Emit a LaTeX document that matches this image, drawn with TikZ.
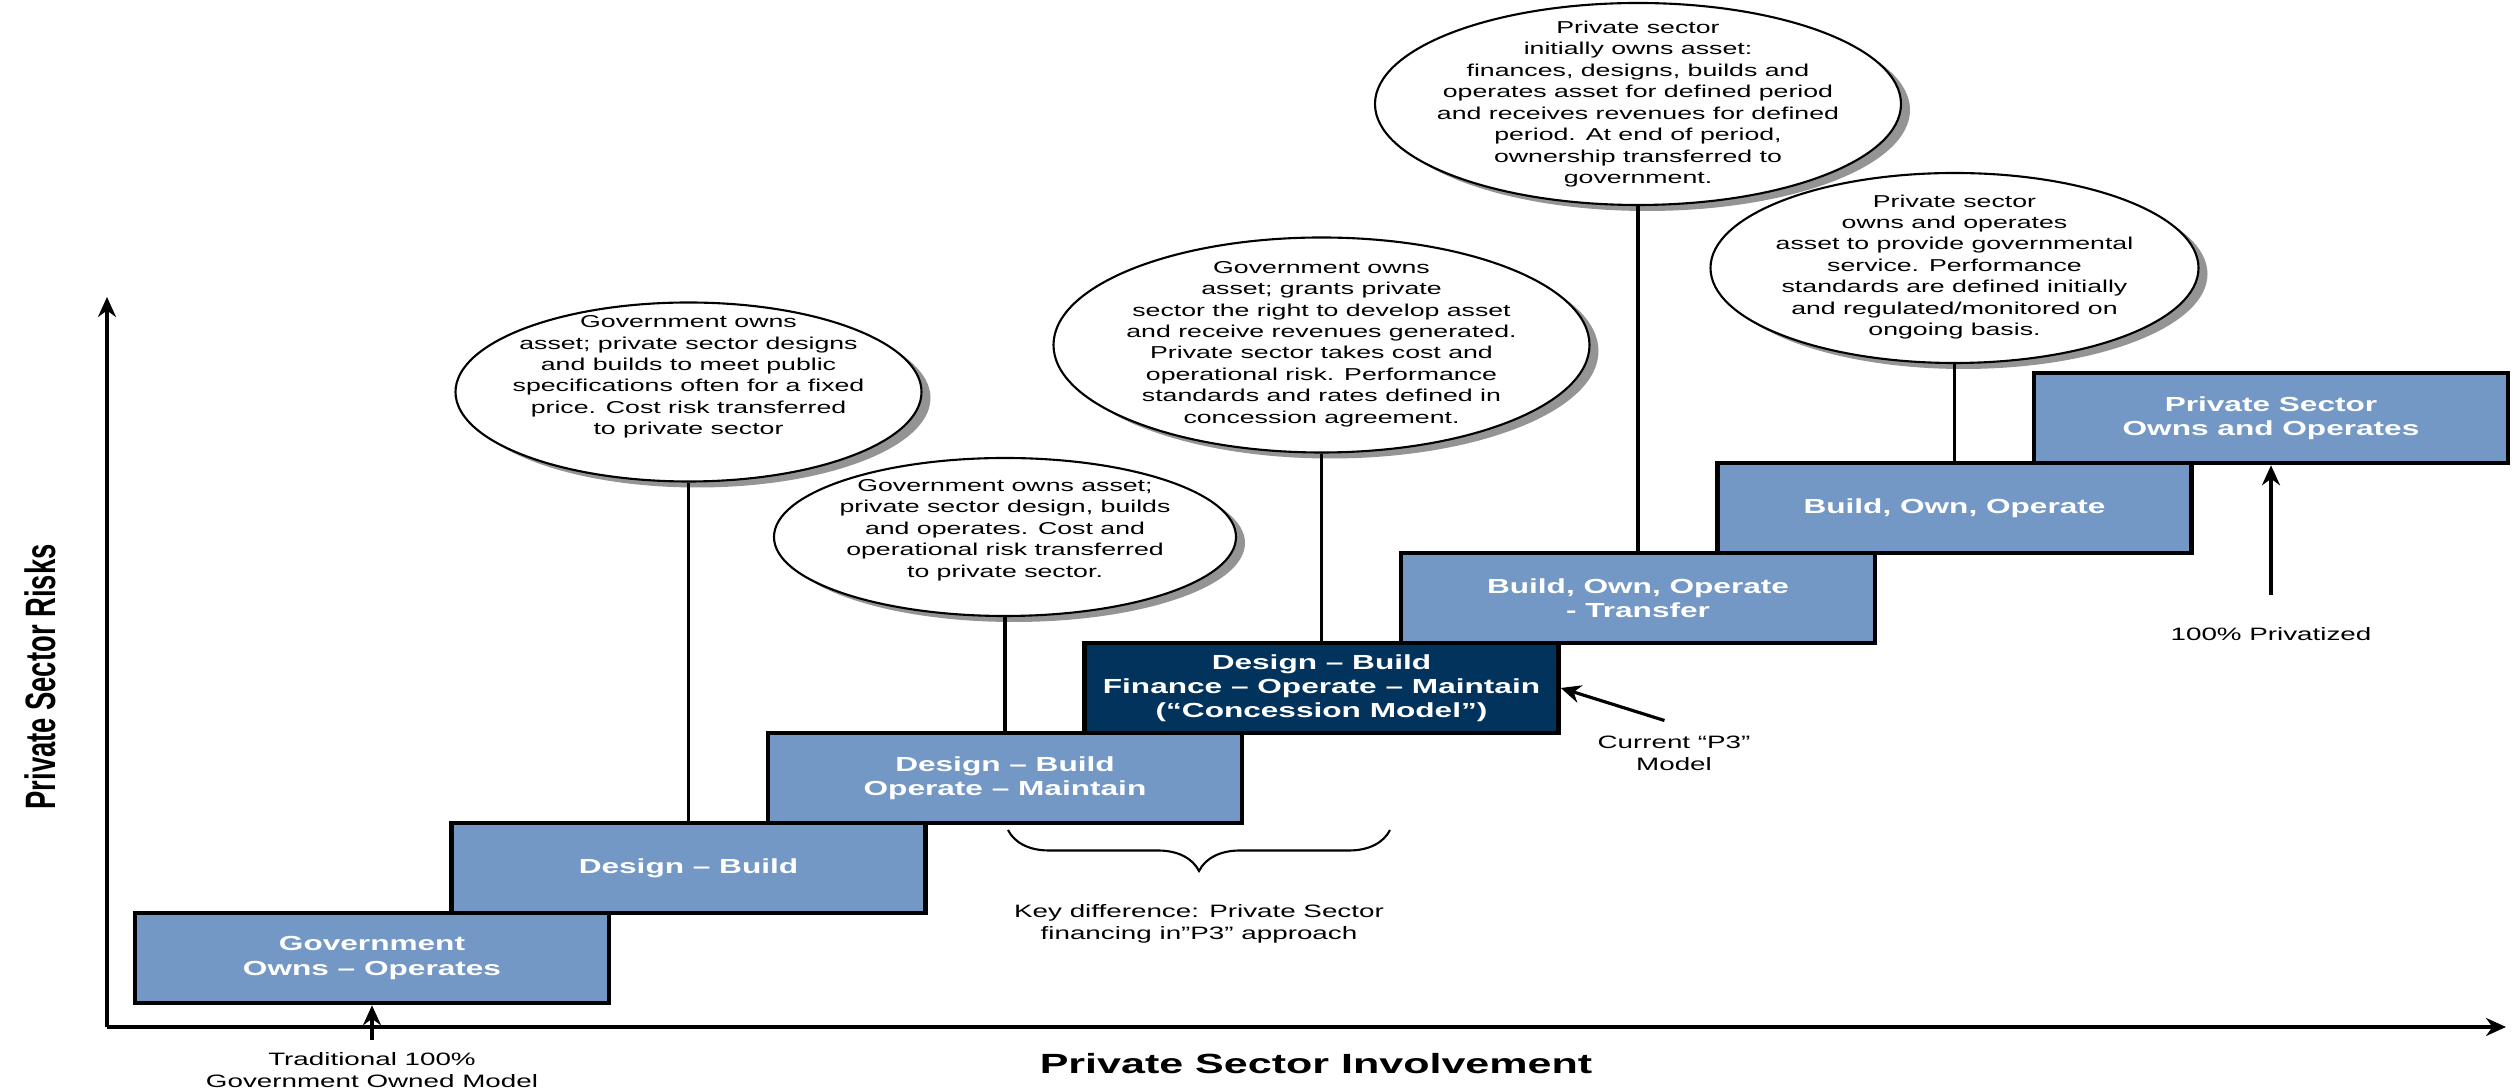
\documentclass[tikz,border=0pt]{standalone}
\usepackage{fontspec}
\setmainfont[FakeStretch=1.55]{Liberation Sans}
\newfontfamily\axisfont{Liberation Sans}
\usepackage{graphicx}
\usepackage{xcolor}
\usetikzlibrary{shapes.geometric}
\usetikzlibrary{shadows}
\usetikzlibrary{arrows.meta}
\usetikzlibrary{decorations.pathreplacing}
\definecolor{stepblue}{RGB}{115,152,197}
\definecolor{navy}{RGB}{2,51,92}

\begin{document}
\begin{tikzpicture}[
	stepbox/.style={draw=black, line width=1.3pt, fill=stepblue, minimum width=4.74cm, minimum height=0.90cm, inner sep=0pt, align=center, text=white, font=\bfseries\fontsize{5.8}{6.9}\selectfont},
	bubble/.style={ellipse, draw=black, line width=0.6pt, fill=white, inner sep=0pt, drop shadow={shadow xshift=0.09cm, shadow yshift=-0.06cm, fill=black!60, opacity=0.7}},
	bubbletext/.style={align=center, font=\fontsize{4.9}{6.1}\selectfont},
	note/.style={align=center, font=\fontsize{5.1}{6.4}\selectfont},
	stem/.style={line width=0.9pt},
	pointer/.style={-{Stealth[length=2mm,width=1.8mm]}, line width=0.9pt}
	]
				\useasboundingbox (0,0) rectangle (25.16,10.91);
				% axes
				\coordinate (O) at (1.07,0.64);
				\coordinate (Y) at (1.07,7.94);
				\coordinate (X) at (25.06,0.64);
				\draw[pointer] (O) -- (Y);
				\draw[pointer] (O) -- (X);
				\node (V) at (13.16,0.27){\bfseries\fontsize{7.9}{9}\selectfont Private Sector Involvement};
				\node[rotate=90] (W) at (0.40,4.14){\axisfont\bfseries\fontsize{7.8}{9}\selectfont\scalebox{1}[1.55]{Private Sector Risks}};
				% steps
				\node[stepbox] (A) at (3.72,1.33){Government\\Owns – Operates};
				\node[stepbox] (B) at (6.885,2.23){Design – Build};
				\node[stepbox] (C) at (10.05,3.13){Design – Build\\Operate – Maintain};
				\node[stepbox, fill=navy] (D) at (13.215,4.03){Design – Build\\Finance – Operate – Maintain\\(“Concession Model”)};
				\node[stepbox] (E) at (16.38,4.93){Build, Own, Operate\\- Transfer};
				\node[stepbox] (F) at (19.545,5.83){Build, Own, Operate};
				\node[stepbox] (G) at (22.71,6.73){Private Sector\\Owns and Operates};
				% bubbles
				\node[bubble, minimum width=4.66cm, minimum height=1.79cm] (H) at (6.885,6.99){};
				\node[bubble, minimum width=4.62cm, minimum height=1.58cm] (I) at (10.05,5.54){};
				\node[bubble, minimum width=5.36cm, minimum height=2.15cm] (J) at (13.215,7.46){};
				\node[bubble, minimum width=5.26cm, minimum height=2.02cm] (K) at (16.38,9.87){};
				\node[bubble, minimum width=4.88cm, minimum height=1.90cm] (L) at (19.545,8.23){};
				\node[bubbletext] (M) at (6.885,7.14){Government owns\\asset; private sector designs\\and builds to meet public\\specifications often for a fixed\\price. Cost risk transferred\\to private sector};
				\node[bubbletext] (N) at (10.05,5.61){Government owns asset;\\private sector design, builds\\and operates. Cost and\\operational risk transferred\\to private sector.};
				\node[bubbletext] (P) at (13.215,7.47){Government owns\\asset; grants private\\sector the right to develop asset\\and receive revenues generated.\\Private sector takes cost and\\operational risk. Performance\\standards and rates defined in\\concession agreement.};
				\node[bubbletext] (Q) at (16.38,9.87){Private sector\\initially owns asset:\\finances, designs, builds and\\operates asset for defined period\\and receives revenues for defined\\period. At end of period,\\ownership transferred to\\government.};
				\node[bubbletext] (R) at (19.545,8.24){Private sector\\owns and operates\\asset to provide governmental\\service. Performance\\standards are defined initially\\and regulated/monitored on\\ongoing basis.};
				\draw[stem] (H.south) -- (B.north);
				\draw[stem] (I.south) -- (C.north);
				\draw[stem] (J.south) -- (D.north);
				\draw[stem] (K.south) -- (E.north);
				\draw[stem] (L.south) -- (F.north);
				% notes
				\node[note] (S) at (3.72,0.21){Traditional 100\%\\Government Owned Model};
				\node[note] (T) at (16.74,3.375){Current “P3”\\Model};
				\node[note] (U) at (11.99,1.67){Key difference: Private Sector\\financing in"P3" approach};
				\node[note] (Z) at (22.71,4.57){100\% Privatized};
				\draw[pointer] (S.north) -- (A.south);
				\draw[pointer, shorten <=0.1cm] (T.north) -- (D.east);
				\draw[pointer, shorten <=0.2cm] (Z.north) -- (G.south);
				\coordinate (kl) at (10.08,2.61);
				\coordinate (kr) at (13.90,2.61);
				\draw[line width=0.6pt, decorate, decoration={brace, mirror, amplitude=0.41cm}] (kl) -- (kr);
\end{tikzpicture}
\end{document}
